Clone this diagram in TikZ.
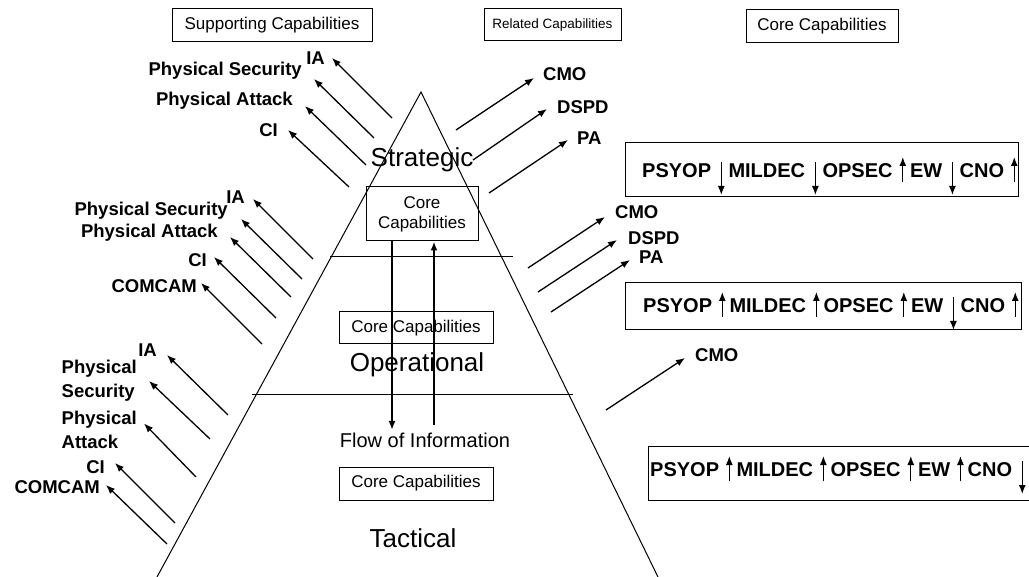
\documentclass[tikz,border=0pt]{standalone}
\usepackage{fontspec}
\setmainfont{Liberation Sans}
\usetikzlibrary{arrows.meta,positioning}

\begin{document}
\begin{tikzpicture}[
    x=1pt, y=-1pt,
    >={Latex[length=9pt,width=7pt]},
    capbox/.style={draw, line width=1pt, inner sep=0pt,
      font=\fontsize{17}{20}\selectfont},
    lbl/.style={font=\fontsize{18.5}{24}\selectfont\bfseries, inner sep=2pt},
    level/.style={font=\fontsize{26}{30}\selectfont, inner sep=0pt},
    rowbox/.style={draw, line width=1pt},
    rowword/.style={font=\fontsize{20}{24}\selectfont\bfseries, inner sep=0pt},
    marker/.style={-{Latex[length=9pt,width=7pt]}, line width=1.3pt},
    feed/.style={->, line width=1.3pt},
    flow/.style={->, line width=2pt},
  ]
  \useasboundingbox (0,0) rectangle (1029,577);

  % pyramid
  \draw[line width=1pt] (157,577) -- (421,92) -- (658,577);
  \draw[line width=1pt] (330,257) -- (513,257);
  \draw[line width=1pt] (252,395) -- (573,395);

  % headers
  \node[capbox, minimum width=200pt, minimum height=33pt] (supp) at (272,25.5) {Supporting Capabilities};
  \node[capbox, minimum width=137pt, minimum height=32pt, font=\fontsize{13.5}{16}\selectfont] (rel) at (552.5,25) {Related Capabilities};
  \node[capbox, minimum width=152pt, minimum height=33pt] (core) at (822,26.5) {Core Capabilities};

  % levels
  \node[level] (strat) at (422,160) {Strategic};
  \node[level] (oper) at (417,365) {Operational};
  \node[level] (tact) at (413,538) {Tactical};

  \node[capbox, align=center, minimum width=112pt, minimum height=54pt] (core1) at (422,214) {Core\\Capabilities};
  \node[capbox, minimum width=154pt, minimum height=32pt] (core2) at (416,328) {Core Capabilities};
  \node[capbox, minimum width=154pt, minimum height=33pt] (core3) at (416,483.5) {Core Capabilities};

  % flow of information
  \node[font=\fontsize{20}{24}\selectfont, inner sep=0pt] (flow) at (425,440) {Flow of Information};
  \coordinate (down) at (392,430);
  \coordinate (up) at (434,425);
  \draw[flow] (core1.south -| down) -- (down);
  \draw[flow] (up) -- (core1.south -| up);

  % supporting capabilities, strategic
  \node[lbl, anchor=east] (ia1) at (327,58) {IA};
  \node[lbl, anchor=east] (ps1) at (304,71) {Physical Security};
  \node[lbl, anchor=east] (pa1) at (295,101) {Physical Attack};
  \node[lbl, anchor=east] (ci1) at (280,130) {CI};
  \coordinate (ia1t) at (392,118);
  \coordinate (ps1t) at (374,138);
  \coordinate (pa1t) at (366,165);
  \coordinate (ci1t) at (349,187);
  \draw[feed] (ia1t) -- ([xshift=5pt]ia1.east);
  \draw[feed] (ps1t) -- ([xshift=10pt,yshift=-8pt]ps1.east);
  \draw[feed] (pa1t) -- ([xshift=10pt,yshift=-5pt]pa1.east);
  \draw[feed] (ci1t) -- ([xshift=8pt]ci1.east);

  % supporting capabilities, operational
  \node[lbl, anchor=east] (ia2) at (247,197) {IA};
  \node[lbl, anchor=east] (ps2) at (230,211) {Physical Security};
  \node[lbl, anchor=east] (pa2) at (220,233) {Physical Attack};
  \node[lbl, anchor=east] (ci2) at (209,260) {CI};
  \node[lbl, anchor=east] (cc2) at (199,286) {COMCAM};
  \coordinate (ia2t) at (313,259);
  \coordinate (ps2t) at (302,279);
  \coordinate (pa2t) at (291,297);
  \coordinate (ci2t) at (276,318);
  \coordinate (cc2t) at (262,344);
  \draw[feed] (ia2t) -- ([xshift=6pt,yshift=-2pt]ia2.east);
  \draw[feed] (ps2t) -- ([xshift=11pt,yshift=-8pt]ps2.east);
  \draw[feed] (pa2t) -- ([xshift=10pt,yshift=-4pt]pa2.east);
  \draw[feed] (ci2t) -- ([xshift=5pt,yshift=3pt]ci2.east);
  \draw[feed] (cc2t) -- ([xshift=2pt,yshift=3pt]cc2.east);

  % supporting capabilities, tactical
  \node[lbl, anchor=east] (ia3) at (159,350) {IA};
  \node[lbl, anchor=east, align=left] (ps3) at (139,381) {Physical\\Security};
  \node[lbl, anchor=east, align=left] (pa3) at (139,429.5) {Physical\\Attack};
  \node[lbl, anchor=east] (ci3) at (107,467) {CI};
  \node[lbl, anchor=east] (cc3) at (102,487) {COMCAM};
  \coordinate (ia3t) at (228,415);
  \coordinate (ps3t) at (210,439);
  \coordinate (pa3t) at (196,477);
  \coordinate (ci3t) at (175,523);
  \coordinate (cc3t) at (167,544);
  \draw[feed] (ia3t) -- ([xshift=8pt,yshift=-5pt]ia3.east);
  \draw[feed] (ps3t) -- ([xshift=10pt]ps3.east);
  \draw[feed] (pa3t) -- ([xshift=5pt,yshift=6pt]pa3.east);
  \draw[feed] (ci3t) -- ([xshift=8pt,yshift=4pt]ci3.east);
  \draw[feed] (cc3t) -- ([xshift=4pt,yshift=2pt]cc3.east);

  % related capabilities
  \node[lbl, anchor=west] (cmoS) at (541,74) {CMO};
  \node[lbl, anchor=west] (dspdS) at (555,107) {DSPD};
  \node[lbl, anchor=west] (paS) at (575,138) {PA};
  \coordinate (cmoSt) at (456,130);
  \coordinate (dspdSt) at (473,160);
  \coordinate (paSt) at (489,193);
  \draw[feed] (cmoSt) -- ([xshift=-7pt,yshift=-4pt]cmoS.west);
  \draw[feed] (dspdSt) -- ([xshift=-8pt,yshift=-2pt]dspdS.west);
  \draw[feed] (paSt) -- ([xshift=-7pt,yshift=-2pt]paS.west);

  \node[lbl, anchor=west] (cmoO) at (613,212) {CMO};
  \node[lbl, anchor=west] (dspdO) at (626,238) {DSPD};
  \node[lbl, anchor=west] (paO) at (637,257) {PA};
  \coordinate (cmoOt) at (528,268);
  \coordinate (dspdOt) at (538,292);
  \coordinate (paOt) at (551,312);
  \draw[feed] (cmoOt) -- ([xshift=-8pt,yshift=-5pt]cmoO.west);
  \draw[feed] (dspdOt) -- ([xshift=-9pt,yshift=-2pt]dspdO.west);
  \draw[feed] (paOt) -- ([xshift=-7pt,yshift=-3pt]paO.west);

  \node[lbl, anchor=west] (cmoT) at (693,355) {CMO};
  \coordinate (cmoTt) at (606,410);
  \draw[feed] (cmoTt) -- ([xshift=-8pt,yshift=-3pt]cmoT.west);

  % core capabilities rows
  \node[rowbox, minimum width=393pt, minimum height=54pt] (row1) at (821.5,170) {};
  \node[rowbox, minimum width=396pt, minimum height=47pt] (row2) at (823,306.5) {};
  \node[rowbox, minimum width=397pt, minimum height=53pt] (row3) at (846.5,473.5) {};

  \coordinate (r1a0) at (642,171);
  \foreach \w/\s/\e [count=\i, remember=\i as \lasti (initially 0)] in
    {PSYOP/9/-24, MILDEC/9/-24, OPSEC/-11/14, EW/9/-24, CNO/-11/14} {
    \node[rowword, anchor=west] (r1w\i) at (r1a\lasti) {\w};
    \coordinate (r1a\i) at ([xshift=17pt]r1w\i.east);
    \draw[marker] ([xshift=10pt,yshift=\s]r1w\i.east) -- ([xshift=10pt,yshift=\e]r1w\i.east);
  }

  \coordinate (r2a0) at (643,306);
  \foreach \w/\s/\e [count=\i, remember=\i as \lasti (initially 0)] in
    {PSYOP/-11/14, MILDEC/-11/14, OPSEC/-11/14, EW/9/-24, CNO/-11/14} {
    \node[rowword, anchor=west] (r2w\i) at (r2a\lasti) {\w};
    \coordinate (r2a\i) at ([xshift=17pt]r2w\i.east);
    \draw[marker] ([xshift=10pt,yshift=\s]r2w\i.east) -- ([xshift=10pt,yshift=\e]r2w\i.east);
  }

  \coordinate (r3a0) at (650,470);
  \foreach \w/\s/\e [count=\i, remember=\i as \lasti (initially 0)] in
    {PSYOP/-11/14, MILDEC/-11/14, OPSEC/-11/14, EW/-11/14, CNO/9/-24} {
    \node[rowword, anchor=west] (r3w\i) at (r3a\lasti) {\w};
    \coordinate (r3a\i) at ([xshift=17pt]r3w\i.east);
    \draw[marker] ([xshift=10pt,yshift=\s]r3w\i.east) -- ([xshift=10pt,yshift=\e]r3w\i.east);
  }
\end{tikzpicture}
\end{document}
